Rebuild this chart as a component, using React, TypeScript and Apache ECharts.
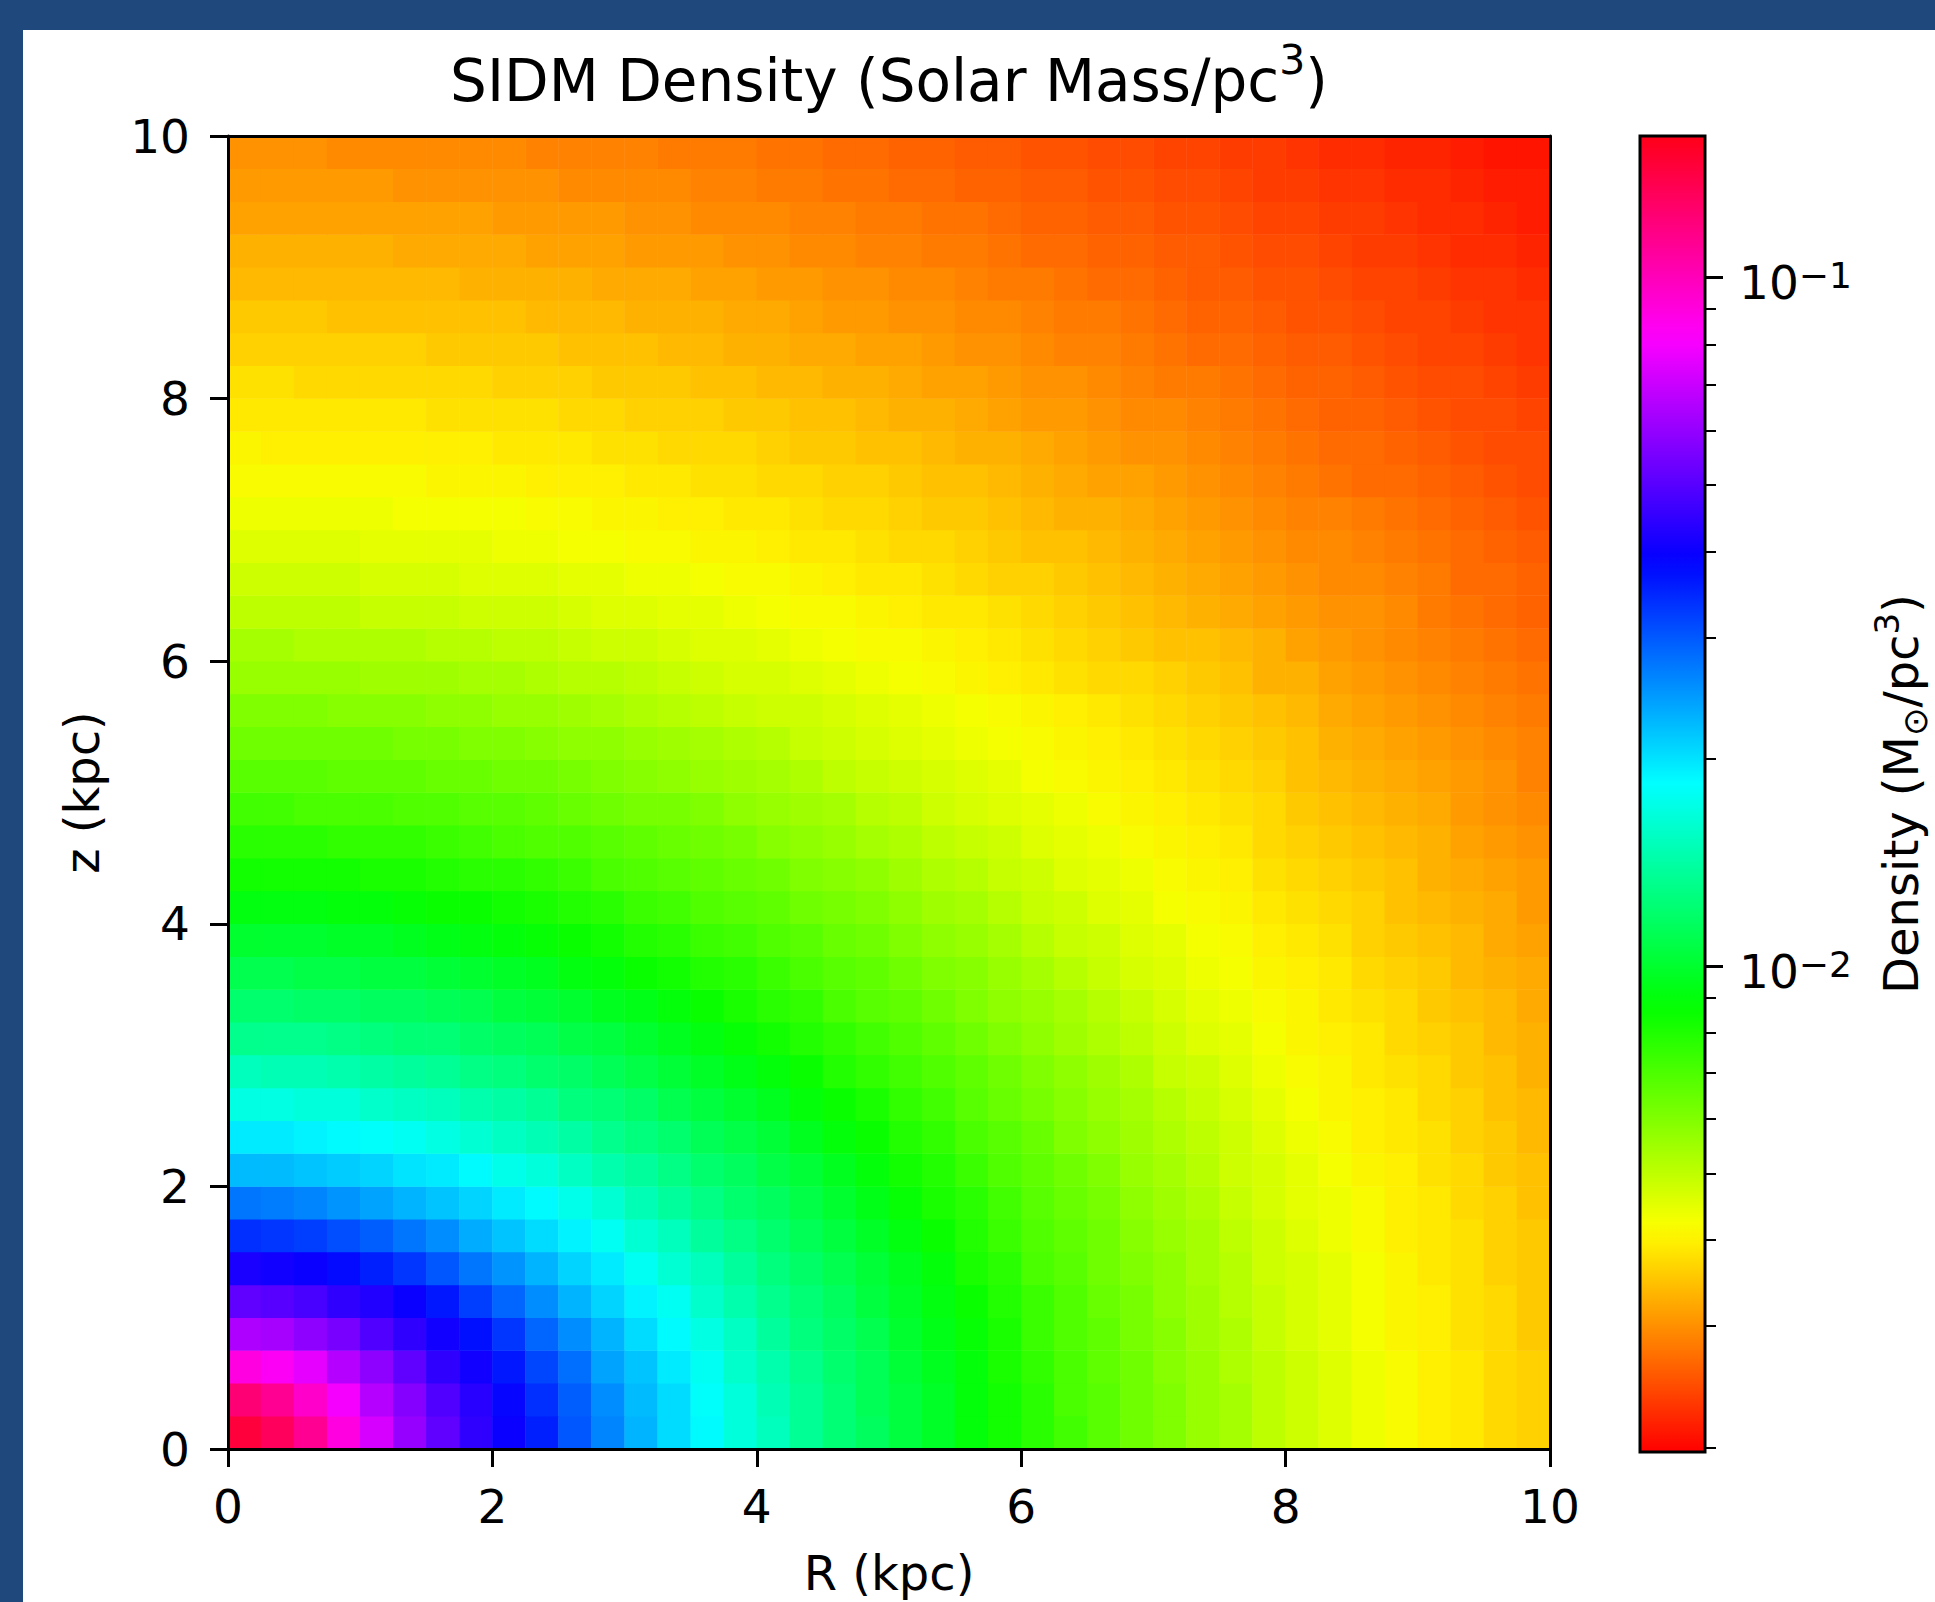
import React, { useEffect, useRef } from "react";
import * as echarts from "echarts";

// ---- data ----
// cell centres (kpc), 0.25 kpc cells
const rCenters = [0.125, 0.375, 0.625, 0.875, 1.125, 1.375, 1.625, 1.875, 2.125, 2.375, 2.625, 2.875, 3.125, 3.375, 3.625, 3.875, 4.125, 4.375, 4.625, 4.875, 5.125, 5.375, 5.625, 5.875, 6.125, 6.375, 6.625, 6.875, 7.125, 7.375, 7.625, 7.875, 8.125, 8.375, 8.625, 8.875, 9.125, 9.375, 9.625, 9.875];
const zCenters = [0.125, 0.375, 0.625, 0.875, 1.125, 1.375, 1.625, 1.875, 2.125, 2.375, 2.625, 2.875, 3.125, 3.375, 3.625, 3.875, 4.125, 4.375, 4.625, 4.875, 5.125, 5.375, 5.625, 5.875, 6.125, 6.375, 6.625, 6.875, 7.125, 7.375, 7.625, 7.875, 8.125, 8.375, 8.625, 8.875, 9.125, 9.375, 9.625, 9.875];

// log10 density (Msun/pc^3); row j = zCenters[j] (bottom to top), column i = rCenters[i]
const logDensity: number[][] = [
  [-0.84, -0.88, -0.95, -1.05, -1.14, -1.22, -1.29, -1.35, -1.40, -1.45, -1.52, -1.58, -1.64, -1.69, -1.73, -1.78, -1.82, -1.87, -1.91, -1.94, -1.98, -2.01, -2.05, -2.08, -2.11, -2.14, -2.17, -2.20, -2.22, -2.25, -2.27, -2.30, -2.32, -2.34, -2.36, -2.38, -2.40, -2.41, -2.43, -2.44],
  [-0.91, -0.95, -1.02, -1.10, -1.18, -1.24, -1.31, -1.36, -1.41, -1.47, -1.53, -1.59, -1.65, -1.69, -1.74, -1.78, -1.83, -1.87, -1.91, -1.95, -1.98, -2.01, -2.05, -2.08, -2.11, -2.15, -2.17, -2.20, -2.22, -2.25, -2.27, -2.30, -2.32, -2.34, -2.36, -2.38, -2.40, -2.41, -2.43, -2.44],
  [-1.05, -1.08, -1.12, -1.18, -1.23, -1.29, -1.35, -1.39, -1.44, -1.50, -1.55, -1.62, -1.66, -1.71, -1.75, -1.80, -1.84, -1.88, -1.92, -1.95, -1.99, -2.02, -2.05, -2.09, -2.12, -2.15, -2.18, -2.20, -2.23, -2.25, -2.28, -2.30, -2.32, -2.34, -2.36, -2.38, -2.40, -2.41, -2.43, -2.44],
  [-1.19, -1.20, -1.23, -1.26, -1.31, -1.35, -1.39, -1.43, -1.48, -1.54, -1.59, -1.64, -1.69, -1.73, -1.77, -1.81, -1.86, -1.90, -1.93, -1.96, -2.00, -2.03, -2.06, -2.09, -2.13, -2.16, -2.18, -2.21, -2.23, -2.26, -2.28, -2.31, -2.33, -2.35, -2.37, -2.39, -2.40, -2.42, -2.43, -2.45],
  [-1.29, -1.30, -1.32, -1.35, -1.37, -1.40, -1.44, -1.49, -1.54, -1.59, -1.64, -1.68, -1.72, -1.75, -1.80, -1.84, -1.88, -1.91, -1.94, -1.98, -2.01, -2.04, -2.07, -2.10, -2.13, -2.16, -2.19, -2.21, -2.24, -2.26, -2.29, -2.31, -2.33, -2.35, -2.37, -2.39, -2.40, -2.42, -2.43, -2.45],
  [-1.38, -1.39, -1.40, -1.42, -1.45, -1.48, -1.52, -1.56, -1.60, -1.64, -1.68, -1.71, -1.75, -1.79, -1.82, -1.86, -1.90, -1.93, -1.96, -1.99, -2.02, -2.05, -2.09, -2.11, -2.15, -2.17, -2.20, -2.22, -2.24, -2.27, -2.29, -2.32, -2.33, -2.35, -2.37, -2.39, -2.41, -2.42, -2.44, -2.45],
  [-1.47, -1.48, -1.49, -1.51, -1.53, -1.56, -1.59, -1.63, -1.66, -1.69, -1.72, -1.75, -1.79, -1.82, -1.86, -1.89, -1.92, -1.95, -1.98, -2.01, -2.04, -2.07, -2.10, -2.13, -2.16, -2.18, -2.20, -2.23, -2.25, -2.27, -2.30, -2.32, -2.34, -2.36, -2.38, -2.40, -2.41, -2.42, -2.44, -2.45],
  [-1.56, -1.57, -1.58, -1.60, -1.62, -1.64, -1.66, -1.68, -1.71, -1.73, -1.76, -1.79, -1.83, -1.86, -1.89, -1.92, -1.94, -1.97, -2.00, -2.03, -2.06, -2.09, -2.11, -2.14, -2.17, -2.19, -2.21, -2.24, -2.26, -2.28, -2.31, -2.33, -2.35, -2.36, -2.38, -2.40, -2.41, -2.43, -2.44, -2.46],
  [-1.65, -1.65, -1.66, -1.67, -1.68, -1.70, -1.71, -1.73, -1.76, -1.78, -1.81, -1.84, -1.86, -1.89, -1.92, -1.94, -1.97, -1.99, -2.02, -2.05, -2.08, -2.10, -2.13, -2.16, -2.18, -2.20, -2.22, -2.25, -2.27, -2.29, -2.32, -2.33, -2.35, -2.37, -2.39, -2.40, -2.42, -2.43, -2.45, -2.46],
  [-1.71, -1.71, -1.72, -1.73, -1.74, -1.75, -1.77, -1.79, -1.81, -1.83, -1.85, -1.88, -1.90, -1.92, -1.95, -1.97, -1.99, -2.02, -2.05, -2.07, -2.10, -2.12, -2.15, -2.17, -2.19, -2.22, -2.24, -2.26, -2.28, -2.30, -2.32, -2.34, -2.36, -2.38, -2.40, -2.41, -2.42, -2.44, -2.45, -2.47],
  [-1.77, -1.77, -1.78, -1.78, -1.80, -1.81, -1.82, -1.84, -1.85, -1.87, -1.90, -1.91, -1.93, -1.96, -1.98, -2.00, -2.02, -2.05, -2.07, -2.09, -2.12, -2.14, -2.17, -2.19, -2.21, -2.23, -2.25, -2.27, -2.29, -2.31, -2.33, -2.35, -2.37, -2.39, -2.40, -2.41, -2.43, -2.44, -2.46, -2.47],
  [-1.82, -1.83, -1.83, -1.84, -1.85, -1.86, -1.87, -1.89, -1.90, -1.92, -1.93, -1.95, -1.97, -1.99, -2.01, -2.03, -2.05, -2.07, -2.10, -2.12, -2.14, -2.16, -2.18, -2.20, -2.22, -2.24, -2.26, -2.28, -2.31, -2.32, -2.34, -2.36, -2.38, -2.39, -2.41, -2.42, -2.43, -2.45, -2.46, -2.48],
  [-1.88, -1.88, -1.88, -1.89, -1.90, -1.91, -1.91, -1.93, -1.94, -1.95, -1.97, -1.98, -2.00, -2.02, -2.04, -2.06, -2.08, -2.10, -2.12, -2.14, -2.16, -2.18, -2.20, -2.22, -2.24, -2.26, -2.28, -2.30, -2.32, -2.34, -2.35, -2.37, -2.39, -2.40, -2.41, -2.43, -2.44, -2.45, -2.47, -2.48],
  [-1.92, -1.92, -1.93, -1.93, -1.94, -1.94, -1.95, -1.96, -1.98, -1.99, -2.00, -2.02, -2.03, -2.05, -2.07, -2.09, -2.11, -2.12, -2.15, -2.17, -2.18, -2.20, -2.22, -2.24, -2.25, -2.27, -2.29, -2.31, -2.33, -2.35, -2.36, -2.38, -2.39, -2.41, -2.42, -2.43, -2.45, -2.46, -2.47, -2.49],
  [-1.96, -1.96, -1.97, -1.97, -1.98, -1.98, -1.99, -2.00, -2.01, -2.02, -2.04, -2.05, -2.07, -2.08, -2.10, -2.11, -2.13, -2.15, -2.17, -2.18, -2.20, -2.22, -2.23, -2.25, -2.27, -2.29, -2.31, -2.33, -2.34, -2.36, -2.37, -2.39, -2.40, -2.41, -2.43, -2.44, -2.45, -2.47, -2.48, -2.49],
  [-2.00, -2.00, -2.00, -2.01, -2.01, -2.02, -2.03, -2.04, -2.05, -2.06, -2.07, -2.08, -2.10, -2.11, -2.13, -2.14, -2.16, -2.17, -2.19, -2.20, -2.22, -2.24, -2.25, -2.27, -2.29, -2.31, -2.32, -2.34, -2.35, -2.37, -2.38, -2.40, -2.41, -2.42, -2.44, -2.45, -2.46, -2.47, -2.49, -2.50],
  [-2.04, -2.04, -2.04, -2.05, -2.05, -2.06, -2.07, -2.07, -2.08, -2.09, -2.10, -2.11, -2.13, -2.14, -2.16, -2.17, -2.18, -2.20, -2.21, -2.22, -2.24, -2.26, -2.27, -2.29, -2.31, -2.32, -2.34, -2.35, -2.37, -2.38, -2.39, -2.41, -2.42, -2.43, -2.44, -2.46, -2.47, -2.48, -2.49, -2.51],
  [-2.08, -2.08, -2.08, -2.08, -2.09, -2.09, -2.10, -2.11, -2.11, -2.12, -2.13, -2.15, -2.16, -2.17, -2.18, -2.19, -2.20, -2.22, -2.23, -2.24, -2.26, -2.28, -2.29, -2.31, -2.32, -2.34, -2.35, -2.36, -2.38, -2.39, -2.40, -2.42, -2.43, -2.44, -2.45, -2.46, -2.48, -2.49, -2.50, -2.51],
  [-2.11, -2.11, -2.11, -2.12, -2.12, -2.12, -2.13, -2.14, -2.15, -2.16, -2.16, -2.17, -2.18, -2.19, -2.20, -2.21, -2.23, -2.24, -2.25, -2.27, -2.28, -2.30, -2.31, -2.32, -2.34, -2.35, -2.36, -2.38, -2.39, -2.40, -2.41, -2.43, -2.44, -2.45, -2.46, -2.47, -2.48, -2.50, -2.51, -2.52],
  [-2.14, -2.14, -2.15, -2.15, -2.15, -2.16, -2.16, -2.17, -2.17, -2.18, -2.19, -2.20, -2.21, -2.21, -2.22, -2.24, -2.25, -2.26, -2.27, -2.29, -2.30, -2.32, -2.33, -2.34, -2.35, -2.36, -2.38, -2.39, -2.40, -2.41, -2.42, -2.43, -2.45, -2.46, -2.47, -2.48, -2.49, -2.51, -2.52, -2.53],
  [-2.17, -2.17, -2.17, -2.18, -2.18, -2.18, -2.19, -2.19, -2.20, -2.20, -2.21, -2.22, -2.23, -2.24, -2.25, -2.26, -2.27, -2.28, -2.30, -2.31, -2.32, -2.33, -2.34, -2.35, -2.37, -2.38, -2.39, -2.40, -2.41, -2.42, -2.43, -2.44, -2.46, -2.47, -2.48, -2.49, -2.50, -2.51, -2.52, -2.54],
  [-2.20, -2.20, -2.20, -2.20, -2.20, -2.21, -2.21, -2.22, -2.22, -2.23, -2.24, -2.24, -2.25, -2.26, -2.27, -2.28, -2.29, -2.31, -2.32, -2.33, -2.34, -2.35, -2.36, -2.37, -2.38, -2.39, -2.40, -2.41, -2.42, -2.43, -2.44, -2.45, -2.46, -2.48, -2.49, -2.50, -2.51, -2.52, -2.53, -2.54],
  [-2.22, -2.22, -2.22, -2.23, -2.23, -2.23, -2.24, -2.24, -2.25, -2.25, -2.26, -2.27, -2.28, -2.29, -2.30, -2.31, -2.32, -2.32, -2.33, -2.34, -2.35, -2.36, -2.37, -2.38, -2.39, -2.40, -2.41, -2.42, -2.43, -2.44, -2.45, -2.46, -2.47, -2.49, -2.50, -2.51, -2.52, -2.53, -2.54, -2.55],
  [-2.25, -2.25, -2.25, -2.25, -2.26, -2.26, -2.26, -2.27, -2.27, -2.28, -2.29, -2.29, -2.30, -2.31, -2.32, -2.33, -2.33, -2.34, -2.35, -2.36, -2.37, -2.38, -2.39, -2.40, -2.41, -2.42, -2.43, -2.43, -2.44, -2.45, -2.46, -2.48, -2.48, -2.50, -2.51, -2.52, -2.53, -2.54, -2.55, -2.56],
  [-2.27, -2.27, -2.28, -2.28, -2.28, -2.28, -2.29, -2.29, -2.30, -2.30, -2.31, -2.32, -2.32, -2.33, -2.34, -2.34, -2.35, -2.36, -2.37, -2.38, -2.38, -2.39, -2.40, -2.41, -2.42, -2.43, -2.44, -2.45, -2.46, -2.46, -2.47, -2.48, -2.50, -2.51, -2.52, -2.53, -2.54, -2.55, -2.56, -2.57],
  [-2.30, -2.30, -2.30, -2.30, -2.31, -2.31, -2.31, -2.32, -2.32, -2.32, -2.33, -2.34, -2.34, -2.35, -2.35, -2.36, -2.37, -2.38, -2.38, -2.39, -2.40, -2.41, -2.41, -2.42, -2.43, -2.44, -2.45, -2.46, -2.47, -2.48, -2.49, -2.50, -2.51, -2.52, -2.52, -2.53, -2.55, -2.56, -2.57, -2.58],
  [-2.32, -2.32, -2.32, -2.32, -2.33, -2.33, -2.33, -2.34, -2.34, -2.34, -2.35, -2.35, -2.36, -2.36, -2.37, -2.38, -2.38, -2.39, -2.40, -2.41, -2.41, -2.42, -2.43, -2.44, -2.44, -2.45, -2.46, -2.47, -2.48, -2.49, -2.50, -2.51, -2.52, -2.53, -2.53, -2.54, -2.55, -2.57, -2.57, -2.58],
  [-2.34, -2.34, -2.34, -2.34, -2.35, -2.35, -2.35, -2.35, -2.36, -2.36, -2.37, -2.37, -2.38, -2.38, -2.39, -2.39, -2.40, -2.41, -2.41, -2.42, -2.43, -2.43, -2.44, -2.45, -2.46, -2.46, -2.47, -2.48, -2.49, -2.50, -2.51, -2.52, -2.53, -2.53, -2.54, -2.55, -2.56, -2.57, -2.58, -2.59],
  [-2.36, -2.36, -2.36, -2.36, -2.36, -2.37, -2.37, -2.37, -2.37, -2.38, -2.38, -2.39, -2.39, -2.40, -2.40, -2.41, -2.41, -2.42, -2.43, -2.43, -2.44, -2.45, -2.45, -2.46, -2.47, -2.48, -2.48, -2.49, -2.50, -2.51, -2.52, -2.53, -2.54, -2.54, -2.55, -2.56, -2.57, -2.58, -2.59, -2.60],
  [-2.38, -2.38, -2.38, -2.38, -2.38, -2.38, -2.39, -2.39, -2.39, -2.40, -2.40, -2.40, -2.41, -2.41, -2.42, -2.42, -2.43, -2.43, -2.44, -2.44, -2.45, -2.46, -2.46, -2.47, -2.48, -2.49, -2.50, -2.50, -2.51, -2.52, -2.53, -2.54, -2.55, -2.56, -2.57, -2.57, -2.58, -2.59, -2.60, -2.61],
  [-2.39, -2.40, -2.40, -2.40, -2.40, -2.40, -2.40, -2.40, -2.41, -2.41, -2.41, -2.42, -2.42, -2.43, -2.43, -2.43, -2.44, -2.45, -2.45, -2.46, -2.46, -2.47, -2.48, -2.48, -2.49, -2.50, -2.51, -2.52, -2.52, -2.53, -2.54, -2.55, -2.56, -2.57, -2.57, -2.58, -2.59, -2.60, -2.61, -2.61],
  [-2.41, -2.41, -2.41, -2.41, -2.41, -2.41, -2.42, -2.42, -2.42, -2.42, -2.43, -2.43, -2.44, -2.44, -2.44, -2.45, -2.45, -2.46, -2.46, -2.47, -2.48, -2.48, -2.49, -2.50, -2.51, -2.51, -2.52, -2.53, -2.53, -2.54, -2.55, -2.56, -2.57, -2.58, -2.58, -2.59, -2.60, -2.61, -2.61, -2.62],
  [-2.42, -2.42, -2.43, -2.43, -2.43, -2.43, -2.43, -2.43, -2.44, -2.44, -2.44, -2.45, -2.45, -2.45, -2.46, -2.46, -2.47, -2.47, -2.48, -2.48, -2.49, -2.50, -2.50, -2.51, -2.52, -2.52, -2.53, -2.54, -2.55, -2.55, -2.56, -2.57, -2.58, -2.58, -2.59, -2.60, -2.61, -2.61, -2.62, -2.63],
  [-2.44, -2.44, -2.44, -2.44, -2.44, -2.44, -2.45, -2.45, -2.45, -2.45, -2.46, -2.46, -2.46, -2.47, -2.47, -2.48, -2.48, -2.49, -2.49, -2.50, -2.50, -2.51, -2.52, -2.52, -2.53, -2.54, -2.54, -2.55, -2.56, -2.57, -2.57, -2.58, -2.59, -2.59, -2.60, -2.61, -2.62, -2.62, -2.63, -2.64],
  [-2.45, -2.45, -2.45, -2.46, -2.46, -2.46, -2.46, -2.46, -2.46, -2.47, -2.47, -2.47, -2.48, -2.48, -2.48, -2.49, -2.49, -2.50, -2.51, -2.51, -2.52, -2.52, -2.53, -2.53, -2.54, -2.55, -2.55, -2.56, -2.57, -2.58, -2.58, -2.59, -2.60, -2.60, -2.61, -2.62, -2.62, -2.63, -2.64, -2.64],
  [-2.47, -2.47, -2.47, -2.47, -2.47, -2.47, -2.47, -2.48, -2.48, -2.48, -2.48, -2.49, -2.49, -2.49, -2.50, -2.50, -2.51, -2.51, -2.52, -2.52, -2.53, -2.53, -2.54, -2.55, -2.55, -2.56, -2.57, -2.57, -2.58, -2.59, -2.59, -2.60, -2.60, -2.61, -2.62, -2.62, -2.63, -2.64, -2.64, -2.65],
  [-2.48, -2.48, -2.48, -2.48, -2.48, -2.49, -2.49, -2.49, -2.49, -2.50, -2.50, -2.50, -2.51, -2.51, -2.51, -2.52, -2.52, -2.53, -2.53, -2.54, -2.54, -2.55, -2.55, -2.56, -2.57, -2.57, -2.58, -2.58, -2.59, -2.59, -2.60, -2.61, -2.61, -2.62, -2.63, -2.63, -2.64, -2.65, -2.65, -2.66],
  [-2.50, -2.50, -2.50, -2.50, -2.50, -2.50, -2.50, -2.50, -2.51, -2.51, -2.51, -2.51, -2.52, -2.52, -2.53, -2.53, -2.53, -2.54, -2.54, -2.55, -2.55, -2.56, -2.56, -2.57, -2.58, -2.58, -2.59, -2.59, -2.60, -2.60, -2.61, -2.62, -2.62, -2.63, -2.63, -2.64, -2.65, -2.65, -2.66, -2.67],
  [-2.51, -2.51, -2.51, -2.51, -2.51, -2.52, -2.52, -2.52, -2.52, -2.52, -2.53, -2.53, -2.53, -2.53, -2.54, -2.54, -2.55, -2.55, -2.56, -2.56, -2.57, -2.57, -2.58, -2.58, -2.59, -2.59, -2.60, -2.60, -2.61, -2.61, -2.62, -2.63, -2.63, -2.64, -2.64, -2.65, -2.65, -2.66, -2.67, -2.67],
  [-2.52, -2.52, -2.52, -2.53, -2.53, -2.53, -2.53, -2.53, -2.53, -2.54, -2.54, -2.54, -2.54, -2.55, -2.55, -2.55, -2.56, -2.56, -2.57, -2.57, -2.58, -2.58, -2.59, -2.59, -2.60, -2.60, -2.61, -2.61, -2.62, -2.62, -2.63, -2.63, -2.64, -2.65, -2.65, -2.66, -2.66, -2.67, -2.68, -2.68],
];

// axis ticks
const axisTickValues = [0, 2, 4, 6, 8, 10];
// colour bar range and ticks (Msun/pc^3)
const cbarMin = 0.00197;
const cbarMax = 0.1606;
const cbarMajorTicks = [0.01, 0.1];
const cbarMinorTicks = [0.002, 0.003, 0.004, 0.005, 0.006, 0.007, 0.008, 0.009, 0.02, 0.03, 0.04, 0.05, 0.06, 0.07, 0.08, 0.09];

// ---- matplotlib "hsv" colormap segment data ----
const HSV_R = [[0, 1], [0.15873, 1], [0.174603, 0.96875], [0.333333, 0.03125], [0.349206, 0], [0.666667, 0], [0.68254, 0.03125], [0.84127, 0.96875], [0.857143, 1], [1, 1]];
const HSV_G = [[0, 0], [0.15873, 0.9375], [0.174603, 1], [0.507937, 1], [0.666667, 0.0625], [0.68254, 0], [1, 0]];
const HSV_B = [[0, 0], [0.333333, 0], [0.349206, 0.0625], [0.507937, 1], [0.84127, 1], [0.857143, 0.9375], [1, 0.09375]];

function seg(table: number[][], t: number): number {
  for (let k = 1; k < table.length; k++) {
    if (t <= table[k][0]) {
      const [x0, y0] = table[k - 1];
      const [x1, y1] = table[k];
      return y0 + ((y1 - y0) * (t - x0)) / (x1 - x0 || 1);
    }
  }
  return table[table.length - 1][1];
}
function hex2(v: number) {
  const s = Math.round(Math.max(0, Math.min(1, v)) * 255).toString(16);
  return s.length < 2 ? "0" + s : s;
}
const CMAP_N = 64;
const cmapStops: string[] = [];
for (let k = 0; k < CMAP_N; k++) {
  const t = k / (CMAP_N - 1);
  cmapStops.push("#" + hex2(seg(HSV_R, t)) + hex2(seg(HSV_G, t)) + hex2(seg(HSV_B, t)));
}

const FONT = "DejaVu Sans";
const LOG_MIN = Math.log10(cbarMin);
const LOG_MAX = Math.log10(cbarMax);
const CBAR_RECT = { left: 1640, top: 136, width: 65, height: 1316 };

export default function App() {
  const ref = useRef<HTMLDivElement>(null);
  useEffect(() => {
    document.body.style.margin = "0";
    if (!ref.current) return;
    const chart = echarts.init(ref.current, undefined, { renderer: "svg" });

    const heatData: number[][] = [];
    for (let j = 0; j < zCenters.length; j++) {
      for (let i = 0; i < rCenters.length; i++) {
        heatData.push([i, j, logDensity[j][i]]);
      }
    }

    const gradient = new echarts.graphic.LinearGradient(
      0, 1, 0, 0,
      cmapStops.map((c, k) => ({ offset: k / (CMAP_N - 1), color: c }))
    );

    const frameLine = { show: true, onZero: false, lineStyle: { color: "#000", width: 3 } };
    const tickLabel = { fontSize: 47, color: "#000", fontFamily: FONT };
    const hiddenAxis = {
      show: false,
      axisLine: { show: false, onZero: false },
      axisTick: { show: false },
      axisLabel: { show: false },
      splitLine: { show: false },
    };

    const option: any = {
      animation: false,
      backgroundColor: "#ffffff",
      textStyle: { fontFamily: FONT },
      grid: [
        { left: 228, top: 136, width: 1322, height: 1316, show: false },
        { ...CBAR_RECT, show: true, backgroundColor: gradient, borderColor: "#000", borderWidth: 3 },
        { ...CBAR_RECT, show: false },
        { ...CBAR_RECT, show: false },
      ],
      xAxis: [
        {
          type: "category", gridIndex: 0, data: rCenters.map(String), position: "top",
          axisLine: frameLine, axisTick: { show: false }, axisLabel: { show: false },
          splitLine: { show: false }, z: 10,
        },
        {
          type: "value", gridIndex: 0, min: axisTickValues[0], max: axisTickValues[axisTickValues.length - 1],
          interval: 2, position: "bottom",
          axisLine: frameLine,
          axisTick: { show: true, length: 18, lineStyle: { color: "#000", width: 3 } },
          axisLabel: { ...tickLabel, margin: 34 },
          splitLine: { show: false },
          name: "R (kpc)", nameLocation: "middle", nameGap: 100,
          nameTextStyle: { fontSize: 48, color: "#000", fontFamily: FONT },
          z: 10,
        },
        { type: "value", gridIndex: 1, min: 0, max: 1, ...hiddenAxis },
        { type: "value", gridIndex: 2, min: 0, max: 1, ...hiddenAxis },
        { type: "value", gridIndex: 3, min: 0, max: 1, ...hiddenAxis },
      ],
      yAxis: [
        {
          type: "category", gridIndex: 0, data: zCenters.map(String), position: "right",
          axisLine: frameLine, axisTick: { show: false }, axisLabel: { show: false },
          splitLine: { show: false }, z: 10,
        },
        {
          type: "value", gridIndex: 0, min: axisTickValues[0], max: axisTickValues[axisTickValues.length - 1],
          interval: 2, position: "left",
          axisLine: frameLine,
          axisTick: { show: true, length: 18, lineStyle: { color: "#000", width: 3 } },
          axisLabel: { ...tickLabel, margin: 38 },
          splitLine: { show: false },
          name: "z (kpc)", nameLocation: "middle", nameGap: 122, nameRotate: 90,
          nameTextStyle: { fontSize: 48, color: "#000", fontFamily: FONT },
          z: 10,
        },
        { type: "value", gridIndex: 1, min: LOG_MIN, max: LOG_MAX, ...hiddenAxis },
        {
          type: "value", gridIndex: 2, min: LOG_MIN, max: LOG_MAX, position: "right",
          axisLine: { show: false, onZero: false },
          axisTick: {
            show: true, length: 18, lineStyle: { color: "#000", width: 3 },
            customValues: cbarMajorTicks.map((v) => Math.log10(v)),
          },
          axisLabel: {
            show: true, margin: 34,
            customValues: cbarMajorTicks.map((v) => Math.log10(v)),
            formatter: (v: number) => "{b|10}{sup|\u2212" + Math.abs(Math.round(v)) + "}",
            rich: {
              b: { fontSize: 47, lineHeight: 40, padding: [10, 0, 0, 0], color: "#000", fontFamily: FONT },
              sup: { fontSize: 36, lineHeight: 34, verticalAlign: "top", color: "#000", fontFamily: FONT },
            },
          },
          splitLine: { show: false },
          z: 10,
        },
        {
          type: "value", gridIndex: 3, min: LOG_MIN, max: LOG_MAX, position: "right",
          axisLine: { show: false, onZero: false },
          axisTick: {
            show: true, length: 11, lineStyle: { color: "#000", width: 2 },
            customValues: cbarMinorTicks.map((v) => Math.log10(v)),
          },
          axisLabel: { show: false },
          splitLine: { show: false },
          z: 10,
        },
      ],
      visualMap: {
        type: "continuous", show: false, min: LOG_MIN, max: LOG_MAX, dimension: 2, seriesIndex: 0,
        inRange: { color: cmapStops },
      },
      series: [
        {
          type: "heatmap", xAxisIndex: 0, yAxisIndex: 0, data: heatData,
          itemStyle: { borderWidth: 0 }, emphasis: { disabled: true }, progressive: 0,
        },
      ],
      graphic: [
        { type: "rect", z: 100, shape: { x: 0, y: 0, width: 1935, height: 30 }, style: { fill: "#1f497d" } },
        { type: "rect", z: 100, shape: { x: 0, y: 0, width: 23, height: 1602 }, style: { fill: "#1f497d" } },
        {
          type: "text", z: 100, x: 889, y: 81,
          style: {
            text: "{t|SIDM Density (Solar Mass/pc}{sup|3}{t|)}",
            align: "center", verticalAlign: "middle", fill: "#000", fontFamily: FONT,
            rich: {
              t: { fontSize: 58, lineHeight: 84, fill: "#000", fontFamily: FONT },
              sup: { fontSize: 41, lineHeight: 41, verticalAlign: "top", fill: "#000", fontFamily: FONT },
            },
          },
        },
        {
          type: "text", z: 100, x: 1901, y: 794, rotation: Math.PI / 2,
          style: {
            text: "{t|Density (M}{sub|\u2299}{t|/pc}{sup|3}{t|)}",
            align: "center", verticalAlign: "middle", fill: "#000", fontFamily: FONT,
            rich: {
              t: { fontSize: 48, lineHeight: 62, fill: "#000", fontFamily: FONT },
              sup: { fontSize: 34, lineHeight: 30, verticalAlign: "top", fill: "#000", fontFamily: FONT },
              sub: { fontSize: 34, lineHeight: 36, verticalAlign: "bottom", fill: "#000", fontFamily: FONT },
            },
          },
        },
      ],
    };
    chart.setOption(option);
    return () => chart.dispose();
  }, []);
  return (
    <div
      ref={ref}
      style={{ position: "absolute", left: 0, top: 0, width: 1935, height: 1602, background: "#fff" }}
    />
  );
}
